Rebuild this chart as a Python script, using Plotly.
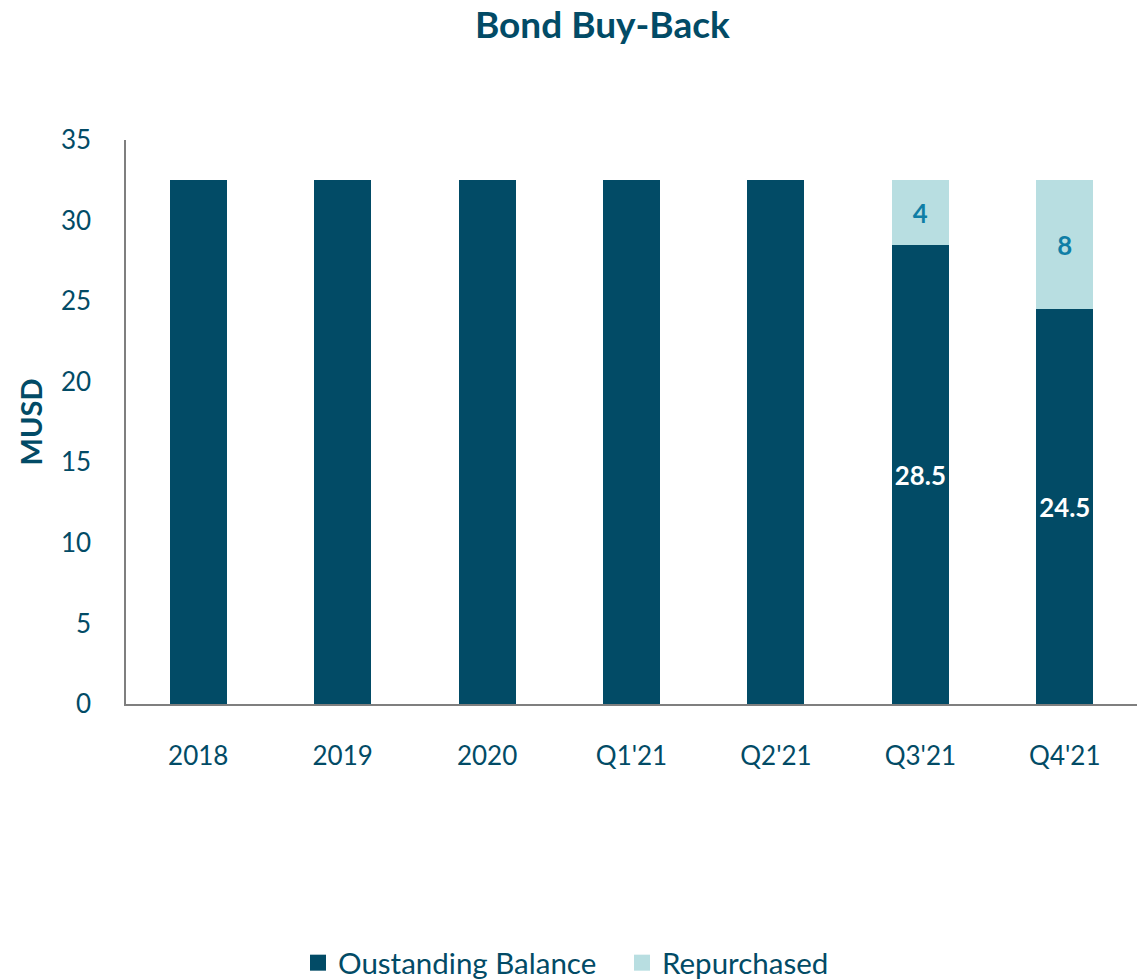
import plotly.graph_objects as go

categories = ["2018", "2019", "2020", "Q1'21", "Q2'21", "Q3'21", "Q4'21"]
outstanding = [32.5, 32.5, 32.5, 32.5, 32.5, 28.5, 24.5]
repurchased = [0, 0, 0, 0, 0, 4, 8]
outstanding_labels = ["", "", "", "", "", "28.5", "24.5"]
repurchased_labels = ["", "", "", "", "", "4", "8"]
series_names = ["Oustanding Balance", "Repurchased"]

DARK = "#024B66"
LIGHT = "#B8DEE1"
FONT = "Lato"

fig = go.Figure()
fig.add_trace(go.Bar(
    x=categories, y=outstanding, name=series_names[0], showlegend=False,
    marker=dict(color=DARK, line=dict(width=0)),
    text=outstanding_labels, textposition="inside", insidetextanchor="middle",
    textangle=0,
    textfont=dict(color="white", size=28, family=FONT, weight="bold"),
    hoverinfo="x+y",
))
fig.add_trace(go.Bar(
    x=categories, y=repurchased, name=series_names[1], showlegend=False,
    marker=dict(color=LIGHT, line=dict(width=0)),
    text=repurchased_labels, textposition="inside", insidetextanchor="middle",
    textangle=0,
    textfont=dict(color="#0F7EA6", size=28, family=FONT, weight="bold"),
    hoverinfo="x+y",
))
# legend entries with larger square swatches
for nm, col in zip(series_names, [DARK, LIGHT]):
    fig.add_trace(go.Scatter(
        x=[None], y=[None], mode="markers", name=nm,
        marker=dict(symbol="square", size=18, color=col),
        showlegend=True, hoverinfo="skip",
    ))

fig.update_layout(
    barmode="stack",
    bargap=0.605,
    width=1143, height=979,
    margin=dict(l=126, r=6, t=140, b=275, autoexpand=False),
    paper_bgcolor="white", plot_bgcolor="white",
    font=dict(family=FONT, color=DARK, size=26),
    title=dict(text="<b>Bond Buy-Back</b>", x=0.527, xanchor="center",
               y=1 - 25 / 979, yanchor="middle",
               font=dict(size=37, color=DARK, family=FONT)),
    uniformtext=dict(minsize=10, mode="show"),
    showlegend=True,
    legend=dict(orientation="h", xref="container", x=298 / 1143, xanchor="left",
                yref="container", y=1 - 963 / 979, yanchor="middle",
                font=dict(size=29.5, color=DARK, family=FONT), itemwidth=30,
                entrywidth=279, entrywidthmode="pixels",
                traceorder="normal"),
)
fig.update_yaxes(
    range=[0, 35], dtick=5, showgrid=False, zeroline=False,
    showline=True, linecolor="#7F7F7F", linewidth=1.5,
    ticks="", ticklabelstandoff=28,
    tickfont=dict(size=26, color=DARK, family=FONT),
    title=dict(text="<b>MUSD</b>", font=dict(size=29, color=DARK, family=FONT), standoff=10),
)
fig.update_xaxes(
    showgrid=False, showline=True, linecolor="#7F7F7F", linewidth=1.5,
    ticks="", ticklabelstandoff=28,
    tickfont=dict(size=26, color=DARK, family=FONT),
)

fig.write_html("out.html")
